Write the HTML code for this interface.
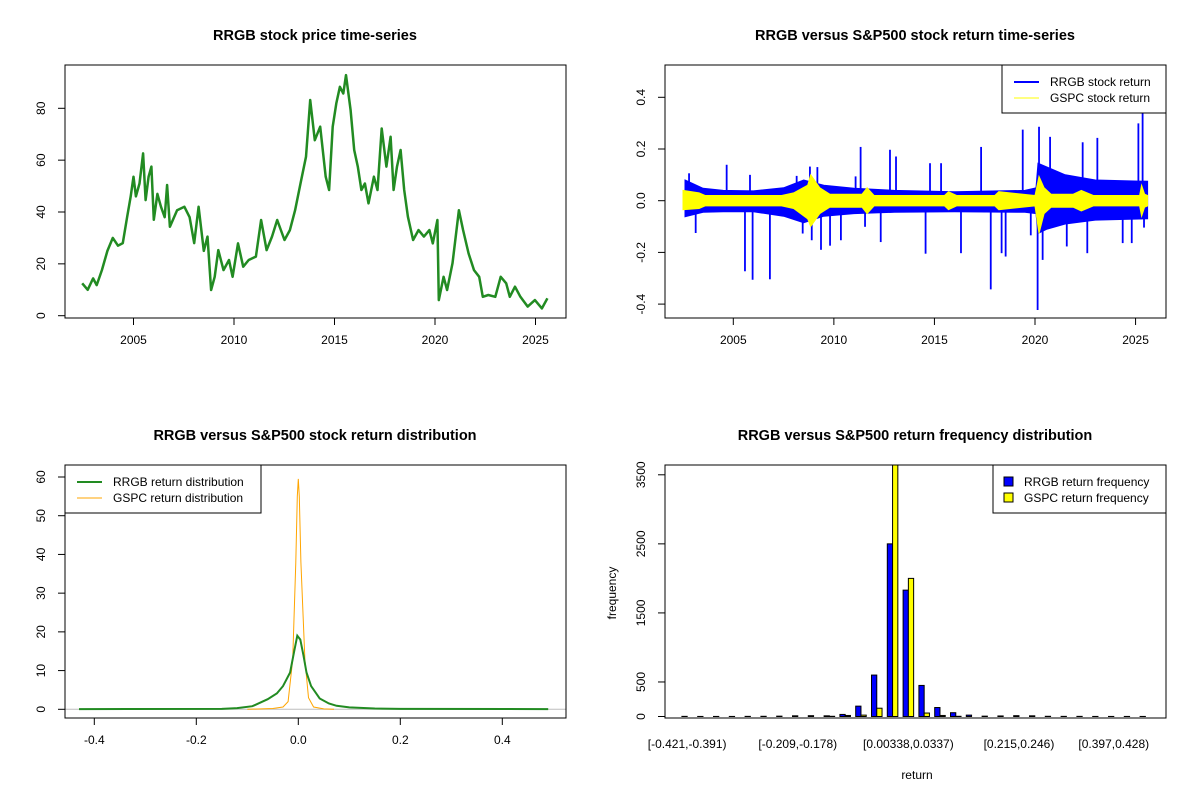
<!DOCTYPE html>
<html><head><meta charset="utf-8"><style>
html,body{margin:0;padding:0;background:#fff}
svg{display:block;font-family:"Liberation Sans",Arial,sans-serif}
</style></head><body>
<svg id="c" width="1200" height="800" viewBox="0 0 1200 800"></svg>
<script>
// ---------- DATA ----------
const priceYears=[2002.45,2002.72,2002.99,2003.17,2003.43,2003.70,2003.97,2004.23,2004.47,2004.68,2004.86,2005.0,2005.12,2005.30,2005.48,2005.6,2005.75,2005.89,2006.01,2006.19,2006.37,2006.55,2006.67,2006.81,2007.17,2007.53,2007.79,2008.02,2008.24,2008.5,2008.68,2008.86,2009.04,2009.22,2009.48,2009.75,2009.93,2010.2,2010.46,2010.73,2011.09,2011.35,2011.62,2011.89,2012.15,2012.51,2012.78,2013.04,2013.31,2013.58,2013.79,2014.02,2014.29,2014.56,2014.73,2014.91,2015.09,2015.27,2015.44,2015.57,2015.8,2015.98,2016.16,2016.34,2016.51,2016.69,2016.96,2017.14,2017.35,2017.58,2017.79,2017.94,2018.11,2018.29,2018.47,2018.65,2018.91,2019.18,2019.45,2019.72,2019.89,2020.12,2020.19,2020.43,2020.6,2020.87,2021.19,2021.4,2021.67,2021.94,2022.2,2022.38,2022.65,2023.0,2023.27,2023.54,2023.72,2023.98,2024.25,2024.61,2024.97,2025.32,2025.59];
const priceValues=[12.5,10,14.4,11.8,17.6,25,30,27,28,38,46,53.6,46,51,62.6,44.6,53.6,57.5,37,47,42,38,50.4,34.3,40.7,42,38,28,42,25,30.5,9.9,15,25.3,17.6,21.5,15,27.9,18.9,21.5,22.8,36.9,25.3,30.5,36.9,29.2,33,40.7,51,61.3,83.2,67.7,72.9,53.6,48.5,72.9,81.9,88.3,85.7,92.8,79.3,63.9,57.5,48.5,51,43.3,53.6,48.5,72.2,57.5,69,48.5,57.5,63.9,48.5,38.2,29.2,33,30.5,33,27.9,36.9,6,15,9.9,20.2,40.7,33,24,17.6,15,7.3,8,7.3,15,12.5,7.3,11.2,7.3,3.5,6,2.8,6.7];

const bandYears=[2002.6,2003.5,2004.5,2006,2007.5,2008.5,2009.5,2011,2013,2016,2019.5,2020.05,2020.15,2020.6,2021.5,2023,2025.6];
const rrgbHi=[0.08,0.048,0.04,0.038,0.05,0.08,0.06,0.048,0.04,0.035,0.04,0.05,0.145,0.13,0.1,0.08,0.075];
const rrgbLo=[-0.062,-0.045,-0.043,-0.043,-0.06,-0.085,-0.06,-0.05,-0.045,-0.043,-0.045,-0.05,-0.127,-0.11,-0.09,-0.075,-0.07];
const spikeYears=[2002.8,2003.13,2004.67,2005.58,2005.83,2005.96,2006.82,2008.15,2008.45,2008.81,2008.9,2009.18,2009.36,2009.81,2010.35,2011.08,2011.33,2011.55,2012.33,2012.79,2013.09,2014.56,2014.78,2015.33,2016.32,2017.32,2017.8,2018.34,2018.54,2019.39,2019.79,2020.13,2020.2,2020.38,2020.75,2021.58,2022.37,2022.6,2023.1,2024.36,2024.81,2025.14,2025.35,2025.42];
const spikeValues=[0.106,-0.125,0.139,-0.273,0.1,-0.306,-0.304,0.096,-0.127,0.132,-0.153,0.13,-0.19,-0.174,-0.153,0.094,0.208,-0.101,-0.16,0.197,0.171,-0.205,0.145,0.145,-0.203,0.208,-0.343,-0.203,-0.216,0.275,-0.134,-0.423,0.286,-0.229,0.247,-0.177,0.226,-0.203,0.243,-0.164,-0.164,0.299,0.338,-0.104];
const gspcYears=[2002.5,2003.3,2003.6,2007.4,2008.0,2008.7,2008.85,2009.3,2009.8,2011.4,2011.65,2012.0,2015.5,2015.7,2016.1,2018.0,2018.2,2020.0,2020.2,2020.45,2020.8,2021.9,2022.3,2022.9,2025.2,2025.3,2025.45,2025.6];
const gspcHi=[0.04,0.03,0.02,0.02,0.03,0.06,0.1,0.05,0.025,0.025,0.05,0.02,0.02,0.035,0.02,0.02,0.035,0.02,0.094,0.05,0.025,0.025,0.04,0.02,0.02,0.06,0.025,0.02];
const gspcLo=[-0.035,-0.03,-0.02,-0.02,-0.03,-0.07,-0.1,-0.05,-0.025,-0.025,-0.05,-0.02,-0.02,-0.035,-0.02,-0.02,-0.035,-0.02,-0.127,-0.05,-0.025,-0.025,-0.04,-0.02,-0.02,-0.06,-0.025,-0.02];

const rrgbDensX=[-0.43,-0.15,-0.12,-0.09,-0.075,-0.06,-0.042,-0.03,-0.016,-0.008,-0.002,0.004,0.01,0.016,0.025,0.042,0.06,0.075,0.1,0.15,0.2,0.49];
const rrgbDensY=[0.05,0.1,0.3,0.8,1.7,2.6,4.1,6,9.5,15,19,18,14,9.5,6,2.8,1.5,0.9,0.5,0.2,0.1,0.05];
const gspcDensX=[-0.1,-0.05,-0.03,-0.02,-0.011,-0.005,-0.002,0,0.002,0.005,0.013,0.02,0.03,0.05,0.07];
const gspcDensY=[0,0.2,0.6,2,12.8,38,55,59.5,55,38,12.8,3,0.6,0.1,0];

const binLabels=["[-0.421,-0.391)","[-0.209,-0.178)","[0.00338,0.0337)","[0.215,0.246)","[0.397,0.428)"];
const binLabelIdx=[0,7,14,21,27];
const rrgbFreq=[2,1,1,1,2,3,5,10,12,10,30,150,600,2500,1830,450,130,55,20,5,8,12,10,3,2,2,1,1,1,1];
const gspcFreq=[0,0,0,0,0,0,0,0,0,3,15,20,120,3700,2000,50,15,3,0,0,0,0,0,0,0,0,0,0,0,0];

const yearTicks=[2005,2010,2015,2020,2025];
const priceTicks=[0,20,40,60,80];
const retTicks=[-0.4,-0.2,0,0.2,0.4];
const densXTicks=[-0.4,-0.2,0,0.2,0.4];
const densYTicks=[0,10,20,30,40,50,60];
const freqTicks=[0,500,1500,2500,3500];

// ---------- HELPERS ----------
const S=document.getElementById('c');const NS='http://www.w3.org/2000/svg';
function mk(tag,at,parent){const e=document.createElementNS(NS,tag);for(const k in at)e.setAttribute(k,at[k]);(parent||S).appendChild(e);return e;}
function txt(s,x,y,o,parent){const e=mk('text',Object.assign({x:x,y:y,'font-size':12,'text-anchor':'middle',fill:'#000'},o||{}),parent);e.textContent=s;return e;}
function lin(d0,d1,r0,r1){return v=>r0+(v-d0)*(r1-r0)/(d1-d0);}

const L=[65,665],R=[566,1166],T=[65,465],B=[318,718];

// ---------- PANEL 1: price ----------
{const g=mk('g',{});
const X=lin(2005,2020,133.5,435),Y=lin(0,80,315.7,108.3);
let t=txt('RRGB stock price time-series',315,40,{'font-size':14.5,'font-weight':'bold'},g);

const pts=priceYears.map((y,i)=>X(y).toFixed(1)+','+Y(priceValues[i]).toFixed(1)).join(' ');
const pl=mk('polyline',{points:pts,fill:'none',stroke:'#228B22','stroke-width':2.5,'stroke-linejoin':'round'},g);

mk('rect',{x:L[0],y:T[0],width:R[0]-L[0],height:B[0]-T[0],fill:'none',stroke:'#000'},g);
yearTicks.forEach(v=>{const x=X(v);mk('line',{x1:x,x2:x,y1:B[0],y2:B[0]+7,stroke:'#000'},g);
 const e=txt(String(v),x,B[0]+26,{},g);});
priceTicks.forEach(v=>{const y=Y(v);mk('line',{x1:L[0],x2:L[0]-7,y1:y,y2:y,stroke:'#000'},g);
 const e=txt(String(v),0,0,{transform:`translate(${L[0]-20},${y}) rotate(-90)`},g);});
}

// ---------- PANEL 2: returns ----------
{const g=mk('g',{});
const X=lin(2005,2020,733.3,1035),Y=lin(0,0.4,200.7,97.3);
let t=txt('RRGB versus S&P500 stock return time-series',915,40,{'font-size':14.5,'font-weight':'bold'},g);

const up=bandYears.map((s,i)=>X(s).toFixed(1)+','+Y(rrgbHi[i]).toFixed(1));
const dn=bandYears.map((s,i)=>X(s).toFixed(1)+','+Y(rrgbLo[i]).toFixed(1)).reverse();
const band=mk('polygon',{points:up.concat(dn).join(' '),fill:'#0000FF',stroke:'#0000FF'},g);

spikeYears.forEach((s,i)=>{const x=X(s);const e=mk('line',{x1:x,x2:x,y1:Y(0),y2:Y(spikeValues[i]),stroke:'#0000FF','stroke-width':1.8},g);
 });
let gu=gspcYears.map((s,i)=>X(s).toFixed(1)+','+Y(gspcHi[i]).toFixed(1));
let gd=gspcYears.map((s,i)=>X(s).toFixed(1)+','+Y(gspcLo[i]).toFixed(1)).reverse();
const yb=mk('polygon',{points:gu.concat(gd).join(' '),fill:'#FFFF00',stroke:'#FFFF00'},g);

mk('rect',{x:L[1],y:T[0],width:R[1]-L[1],height:B[0]-T[0],fill:'none',stroke:'#000'},g);
yearTicks.forEach(v=>{const x=X(v);mk('line',{x1:x,x2:x,y1:B[0],y2:B[0]+7,stroke:'#000'},g);
 const e=txt(String(v),x,B[0]+26,{},g);});
retTicks.forEach(v=>{const y=Y(v);mk('line',{x1:L[1],x2:L[1]-7,y1:y,y2:y,stroke:'#000'},g);
 const e=txt(String(v===0?'0.0':v),0,0,{transform:`translate(${L[1]-20},${y}) rotate(-90)`},g);});
const lg=mk('g',{},g);
mk('rect',{x:1002,y:T[0],width:164,height:48,fill:'#fff',stroke:'#000'},lg);
mk('line',{x1:1014,x2:1039,y1:82,y2:82,stroke:'#0000FF','stroke-width':2},lg);
mk('line',{x1:1014,x2:1039,y1:98,y2:98,stroke:'#FFFF00','stroke-width':1},lg);
txt('RRGB stock return',1050,86,{'text-anchor':'start'},lg);
txt('GSPC stock return',1050,102,{'text-anchor':'start'},lg);
}

// ---------- PANEL 3: density ----------
{const g=mk('g',{});
const X=lin(0,0.4,298.3,502.3),Y=lin(0,60,709.3,477);
let t=txt('RRGB versus S&P500 stock return distribution',315,440,{'font-size':14.5,'font-weight':'bold'},g);

mk('line',{x1:L[0],x2:R[0],y1:Y(0),y2:Y(0),stroke:'#BEBEBE'},g);
const gp=mk('polyline',{points:gspcDensX.map((v,i)=>X(v).toFixed(1)+','+Y(gspcDensY[i]).toFixed(1)).join(' '),fill:'none',stroke:'#FFA500','stroke-width':1},g);

const rp=mk('polyline',{points:rrgbDensX.map((v,i)=>X(v).toFixed(1)+','+Y(rrgbDensY[i]).toFixed(1)).join(' '),fill:'none',stroke:'#228B22','stroke-width':2},g);

mk('rect',{x:L[0],y:T[1],width:R[0]-L[0],height:B[1]-T[1],fill:'none',stroke:'#000'},g);
densXTicks.forEach(v=>{const x=X(v);mk('line',{x1:x,x2:x,y1:B[1],y2:B[1]+7,stroke:'#000'},g);
 const e=txt(v===0?'0.0':String(v),x,B[1]+26,{},g);});
densYTicks.forEach(v=>{const y=Y(v);mk('line',{x1:L[0],x2:L[0]-7,y1:y,y2:y,stroke:'#000'},g);
 const e=txt(String(v),0,0,{transform:`translate(${L[0]-20},${y}) rotate(-90)`},g);});
const lg=mk('g',{},g);
mk('rect',{x:L[0],y:T[1],width:196,height:48,fill:'#fff',stroke:'#000'},lg);
mk('line',{x1:77,x2:102,y1:482,y2:482,stroke:'#228B22','stroke-width':2},lg);
mk('line',{x1:77,x2:102,y1:498,y2:498,stroke:'#FFA500','stroke-width':1},lg);
txt('RRGB return distribution',113,486,{'text-anchor':'start'},lg);
txt('GSPC return distribution',113,502,{'text-anchor':'start'},lg);
}

// ---------- PANEL 4: histogram ----------
{const g=mk('g',{});
const Y=lin(0,3500,716.5,474.8);const pitch=15.8,bw=5.27,x0=681.9;
let t=txt('RRGB versus S&P500 return frequency distribution',915,440,{'font-size':14.5,'font-weight':'bold'},g);

const cp=mk('clipPath',{id:'cp4'},g);mk('rect',{x:L[1],y:T[1],width:R[1]-L[1],height:B[1]-T[1]},cp);
const bars=mk('g',{'clip-path':'url(#cp4)'},g);
rrgbFreq.forEach((v,i)=>{const x=x0+i*pitch;const y=Y(v);
 const r=mk('rect',{x:x,y:y,width:bw,height:Math.max(Y(0)-y,0),fill:'#0000FF',stroke:'#000','stroke-width':1},bars);
 
 const v2=gspcFreq[i];const y2=Y(v2);
 const r2=mk('rect',{x:x+bw,y:y2,width:bw,height:Math.max(Y(0)-y2,0),fill:'#FFFF00',stroke:'#000','stroke-width':1},bars);
 });
mk('rect',{x:L[1],y:T[1],width:R[1]-L[1],height:B[1]-T[1],fill:'none',stroke:'#000'},g);
binLabels.forEach((s,k)=>{const e=txt(s,x0+binLabelIdx[k]*pitch+bw,B[1]+30,{},g);});
freqTicks.forEach(v=>{const y=Y(v);mk('line',{x1:L[1],x2:L[1]-7,y1:y,y2:y,stroke:'#000'},g);
 const e=txt(String(v),0,0,{transform:`translate(${L[1]-20},${y}) rotate(-90)`},g);});
let xl=txt('return',917,779,{},g);
let yl=txt('frequency',0,0,{transform:'translate(616,593) rotate(-90)'},g);
const lg=mk('g',{},g);
mk('rect',{x:993,y:T[1],width:173,height:48,fill:'#fff',stroke:'#000'},lg);
mk('rect',{x:1004,y:477,width:9,height:9,fill:'#0000FF',stroke:'#000'},lg);
mk('rect',{x:1004,y:493,width:9,height:9,fill:'#FFFF00',stroke:'#000'},lg);
txt('RRGB return frequency',1024,486,{'text-anchor':'start'},lg);
txt('GSPC return frequency',1024,502,{'text-anchor':'start'},lg);
}
</script>
</body></html>
